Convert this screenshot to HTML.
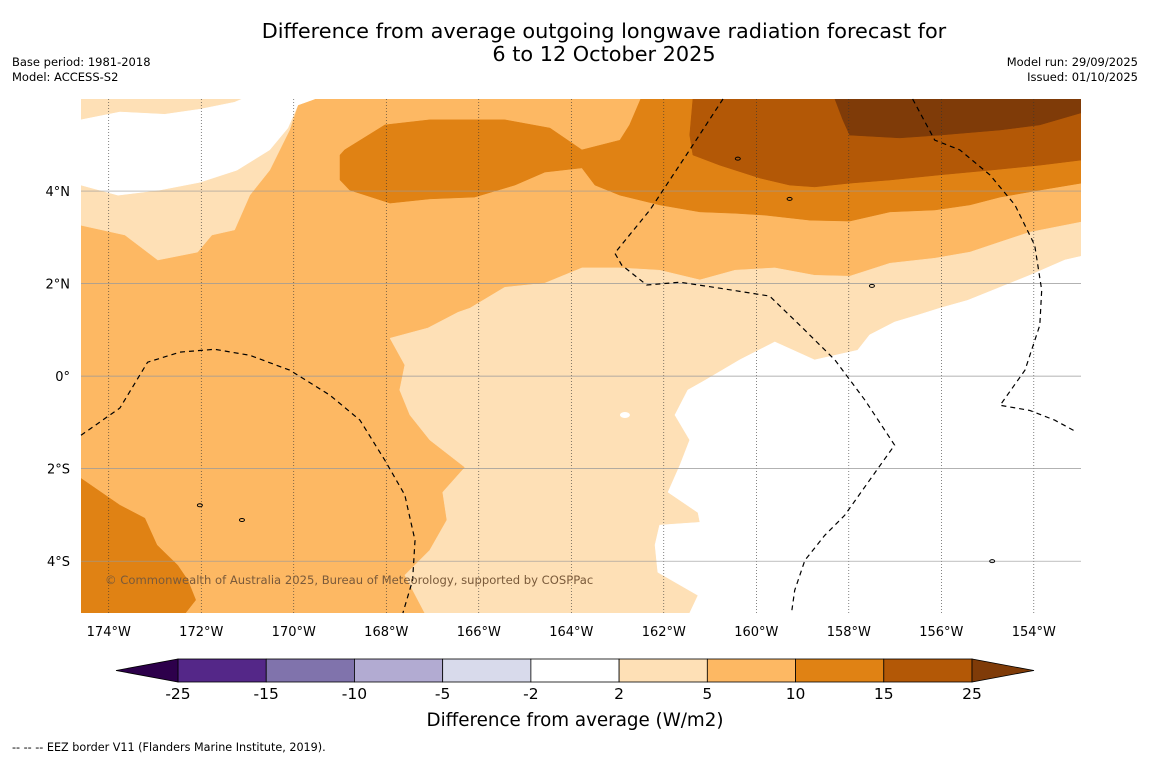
<!DOCTYPE html>
<html><head><meta charset="utf-8">
<style>
body{margin:0;background:#fff;width:1150px;height:758px;overflow:hidden;font-family:"DejaVu Sans","Liberation Sans",sans-serif;}
svg{position:absolute;left:0;top:0}
</style></head>
<body>
<svg id="chart" width="1150" height="758" xmlns="http://www.w3.org/2000/svg">
<text x="604" y="38" text-anchor="middle" font-size="20.8">Difference from average outgoing longwave radiation forecast for</text>
<text x="604" y="61" text-anchor="middle" font-size="20.8">6 to 12 October 2025</text>
<text x="12" y="66" font-size="11.5">Base period: 1981-2018</text>
<text x="12" y="81" font-size="11.5">Model: ACCESS-S2</text>
<text x="1138" y="66" font-size="11.5" text-anchor="end">Model run: 29/09/2025</text>
<text x="1138" y="81" font-size="11.5" text-anchor="end">Issued: 01/10/2025</text>
<g id="map"></g>
<g id="axes"></g>
<g id="cbar"></g>
<text x="575" y="726" text-anchor="middle" font-size="18.3">Difference from average (W/m2)</text>
<text x="12" y="751" font-size="11.2">--  --  -- EEZ border V11 (Flanders Marine Institute, 2019).</text>
</svg>
<script>
const lonTicks=[-174,-172,-170,-168,-166,-164,-162,-160,-158,-156,-154];
const latTicks=[4,2,0,-2,-4];
const cbLevels=[-25,-15,-10,-5,-2,2,5,10,15,25];
const cbColors=["#542788","#8073ac","#b2abd2","#d8daeb","#ffffff","#fee0b6","#fdb863","#e08214","#b35806"];
const cbLow="#2d004b", cbHigh="#7f3b08";
const polyLightTopLeft=[[-174.6,5.99],[-169.55,5.99],[-169.91,5.86],[-170.09,5.32],[-170.52,4.45],[-170.95,3.91],[-171.28,3.16],[-171.77,3.05],[-172.08,2.68],[-172.94,2.51],[-173.65,3.05],[-174.6,3.26]];
const polyWhiteTopLeft=[[-174.6,5.54],[-173.76,5.71],[-172.79,5.66],[-172.03,5.77],[-171.28,5.92],[-171.12,5.99],[-169.55,5.99],[-169.91,5.86],[-170.13,5.36],[-170.52,4.89],[-171.23,4.45],[-172.03,4.19],[-172.9,4.02],[-173.8,3.91],[-174.6,4.13]];
const polyLightCenter=[[-152.98,3.33],[-154.09,3.11],[-154.73,2.9],[-155.38,2.68],[-156.14,2.55],[-157.11,2.44],[-157.98,2.16],[-158.74,2.18],[-159.6,2.34],[-160.46,2.29],[-161.22,2.08],[-162.09,2.29],[-162.95,2.34],[-163.77,2.34],[-164.57,2.01],[-165.44,1.92],[-166.19,1.47],[-166.45,1.38],[-167.1,1.04],[-167.92,0.82],[-167.6,0.24],[-167.71,-0.3],[-167.49,-0.84],[-167.06,-1.38],[-166.3,-1.97],[-166.78,-2.51],[-166.69,-3.11],[-167.06,-3.76],[-167.6,-4.3],[-167.17,-5.12],[-152.98,-5.12]];
const polyWhiteRight=[[-152.98,2.59],[-153.33,2.51],[-154.09,2.18],[-154.78,1.9],[-155.43,1.64],[-156.03,1.47],[-156.51,1.32],[-157.01,1.17],[-157.55,0.89],[-157.81,0.56],[-158.3,0.45],[-158.74,0.35],[-159.6,0.74],[-160.36,0.35],[-161.11,-0.09],[-161.48,-0.3],[-161.76,-0.84],[-161.44,-1.38],[-161.65,-1.92],[-161.91,-2.51],[-161.26,-2.95],[-161.22,-3.16],[-162.09,-3.22],[-162.19,-3.65],[-162.13,-4.24],[-161.26,-4.74],[-161.44,-5.12],[-152.98,-5.12]];
const polyOrange1015=[[-169.0,4.78],[-168.9,4.89],[-168.03,5.43],[-167.06,5.54],[-165.44,5.54],[-164.46,5.36],[-163.77,4.89],[-162.95,5.1],[-162.74,5.43],[-162.5,5.99],[-152.98,5.99],[-152.98,4.17],[-153.87,4.02],[-154.73,3.87],[-155.38,3.7],[-156.14,3.59],[-157.11,3.55],[-157.98,3.35],[-158.84,3.37],[-159.82,3.48],[-160.46,3.52],[-161.22,3.55],[-162.09,3.7],[-162.95,3.91],[-163.49,4.13],[-163.77,4.5],[-164.57,4.41],[-165.22,4.13],[-166.09,3.87],[-167.06,3.83],[-167.92,3.74],[-168.79,4.02],[-169.0,4.24]];
const poly1525=[[-161.37,5.99],[-152.98,5.99],[-152.98,4.67],[-153.87,4.56],[-154.95,4.45],[-156.03,4.35],[-157.11,4.24],[-157.98,4.17],[-158.74,4.09],[-159.28,4.13],[-159.92,4.28],[-160.79,4.56],[-161.37,4.78],[-161.44,5.21]];
const poly25=[[-158.3,5.99],[-152.98,5.99],[-152.98,5.69],[-153.87,5.43],[-154.73,5.32],[-156.03,5.21],[-156.9,5.15],[-157.98,5.21],[-158.13,5.54]];
const polyOrangeBL=[[-174.6,-2.21],[-173.76,-2.79],[-173.22,-3.07],[-172.96,-3.65],[-172.51,-4.09],[-172.29,-4.41],[-172.12,-4.84],[-172.34,-5.12],[-174.6,-5.12]];
const eezLeft=[[-174.6,-1.28],[-173.76,-0.69],[-173.16,0.3],[-172.46,0.52],[-171.71,0.58],[-170.95,0.45],[-170.09,0.13],[-169.22,-0.41],[-168.57,-0.95],[-168.03,-1.82],[-167.6,-2.57],[-167.38,-3.55],[-167.43,-4.41],[-167.64,-5.12]];
const eezMid=[[-160.72,5.99],[-161.44,4.89],[-162.3,3.59],[-163.06,2.66],[-162.91,2.4],[-162.37,1.97],[-161.65,2.03],[-160.79,1.9],[-159.71,1.73],[-159.06,1.1],[-158.3,0.35],[-157.65,-0.52],[-157.01,-1.49],[-157.55,-2.25],[-158.09,-3.01],[-158.52,-3.44],[-158.95,-3.98],[-159.17,-4.63],[-159.23,-5.06]];
const eezRight=[[-156.62,5.99],[-156.14,5.1],[-155.6,4.89],[-154.95,4.35],[-154.41,3.7],[-153.98,2.83],[-153.83,1.86],[-153.87,1.1],[-154.19,0.13],[-154.73,-0.63],[-154.09,-0.74],[-153.55,-0.95],[-153.07,-1.21]];
const NS="http://www.w3.org/2000/svg";
const X0=81,X1=1081,Y0=99,Y1=613;
const LON0=-174.6,LON1=-152.98,LAT0=5.99,LAT1=-5.12;
function px(lon){return X0+(lon-LON0)/(LON1-LON0)*(X1-X0);}
function py(lat){return Y0+(LAT0-lat)/(LAT0-LAT1)*(Y1-Y0);}
function mk(tag,attrs,parent){const e=document.createElementNS(NS,tag);for(const k in attrs)e.setAttribute(k,attrs[k]);parent.appendChild(e);return e;}
function pts(a){return a.map(p=>px(p[0]).toFixed(1)+","+py(p[1]).toFixed(1)).join(" ");}
const map=document.getElementById('map');
const cp=mk('clipPath',{id:'mc'},map);mk('rect',{x:X0,y:Y0,width:X1-X0,height:Y1-Y0},cp);
const g=mk('g',{'clip-path':'url(#mc)'},map);
const base=mk('rect',{x:X0,y:Y0,width:X1-X0,height:Y1-Y0,fill:"#fdb863"},g);


const layers=[[polyLightTopLeft,"#fee0b6","contour-2-5-northwest"],[polyWhiteTopLeft,"#ffffff","contour-neutral-northwest"],[polyLightCenter,"#fee0b6","contour-2-5-center"],[polyWhiteRight,"#ffffff","contour-neutral-east"],[polyOrange1015,"#e08214","contour-10-15-north"],[poly1525,"#b35806","contour-15-25"],[poly25,"#7f3b08","contour-above-25"],[polyOrangeBL,"#e08214","contour-10-15-southwest"]];
layers.forEach(l=>{const p=mk('polygon',{points:pts(l[0]),fill:l[1],stroke:l[1],'stroke-width':0.5},g);

});
const wb=mk('ellipse',{cx:px(-162.84),cy:py(-0.84),rx:5,ry:3,fill:"#fff"},g);


const ax=document.getElementById('axes');
lonTicks.forEach(l=>{const ln=mk('line',{x1:px(l),x2:px(l),y1:Y0,y2:Y1,stroke:"#333",'stroke-width':0.6,'stroke-dasharray':"1,2"},ax);


const t=mk('text',{x:px(l),y:636,'text-anchor':'middle','font-size':13},ax);t.textContent=Math.abs(l)+"°W";

});
latTicks.forEach(l=>{const ln=mk('line',{x1:X0,x2:X1,y1:py(l),y2:py(l),stroke:"#999",'stroke-width':0.7},ax);


const t=mk('text',{x:70,y:py(l)+5,'text-anchor':'end','font-size':13},ax);t.textContent=l===0?"0°":Math.abs(l)+"°"+(l>0?"N":"S");

});
[eezLeft,eezMid,eezRight].forEach(e=>{const p=mk('polyline',{points:pts(e),fill:'none',stroke:'#000','stroke-width':1.2,'stroke-dasharray':'5,4'},ax);

});
[[-172.03,-2.79],[-171.12,-3.11],[-159.28,3.83],[-157.5,1.95],[-154.9,-4.0],[-160.4,4.7]].forEach(c=>{const i=mk('ellipse',{cx:px(c[0]),cy:py(c[1]),rx:2.5,ry:1.5,fill:'none',stroke:'#000','stroke-width':1},ax);

});
const cr=mk('text',{x:105,y:584,'font-size':11.6,fill:'#7a5a3a'},ax);cr.textContent="© Commonwealth of Australia 2025, Bureau of Meteorology, supported by COSPPac";


const cb=document.getElementById('cbar');
const CX0=178,CX1=972,CY=659,CH=23;
const cw=(CX1-CX0)/(cbLevels.length-1);
cbColors.forEach((c,i)=>{const r=mk('rect',{x:CX0+i*cw,y:CY,width:cw,height:CH,fill:c,stroke:'#000','stroke-width':0.8},cb);

});
const tl=mk('polygon',{points:`${CX0},${CY} ${CX0},${CY+CH} 116,${CY+CH/2}`,fill:cbLow,stroke:'#000','stroke-width':0.8},cb);


const tr=mk('polygon',{points:`${CX1},${CY} ${CX1},${CY+CH} 1034,${CY+CH/2}`,fill:cbHigh,stroke:'#000','stroke-width':0.8},cb);


cbLevels.forEach((v,i)=>{const t=mk('text',{x:CX0+i*cw,y:699,'text-anchor':'middle','font-size':15.5},cb);t.textContent=v;

});
</script>
</body></html>
